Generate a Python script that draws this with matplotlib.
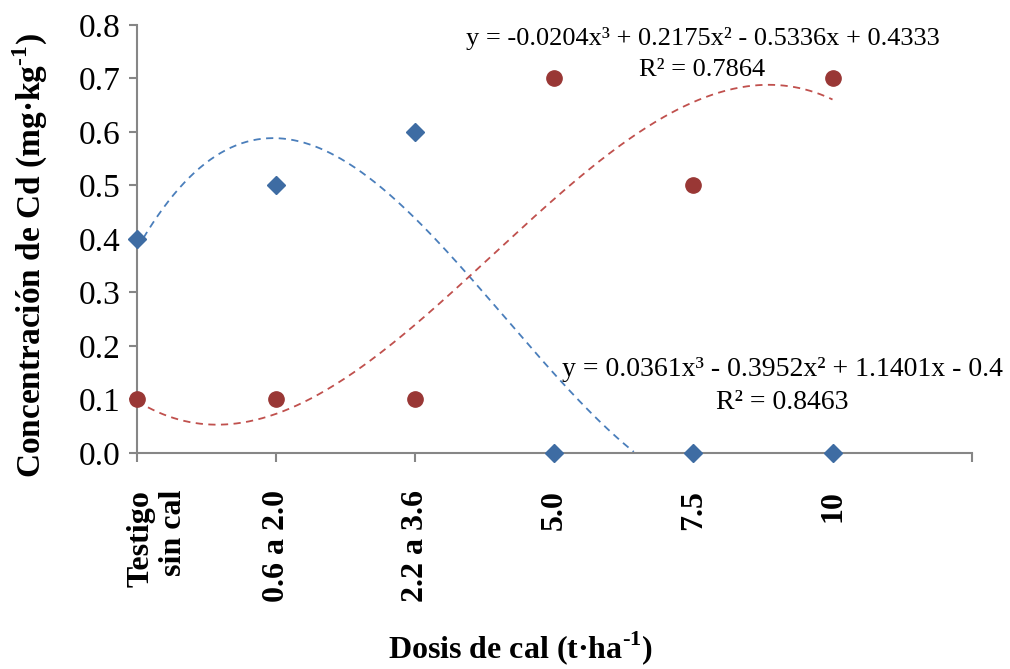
import numpy as np
import matplotlib.pyplot as plt
from matplotlib.transforms import ScaledTranslation

plt.rcParams['font.family'] = ['Liberation Serif', 'DejaVu Serif']
plt.rcParams['mathtext.fontset'] = 'custom'
plt.rcParams['mathtext.rm'] = 'Liberation Serif'
plt.rcParams['mathtext.bf'] = 'Liberation Serif:bold'

categories = ["Testigo\nsin cal", "0.6 a 2.0", "2.2 a 3.6", "5.0", "7.5", "10"]
blue_vals = [0.4, 0.5, 0.6, 0.0, 0.0, 0.0]
red_vals = [0.1, 0.1, 0.1, 0.7, 0.5, 0.7]
eq_red = "y = -0.0204x³ + 0.2175x² - 0.5336x + 0.4333\nR² = 0.7864"
eq_blue = "y = 0.0361x³ - 0.3952x² + 1.1401x - 0.4\nR² = 0.8463"

x = np.arange(1, len(categories) + 1)

fig = plt.figure(figsize=(10.1, 6.69), dpi=100)
ax = fig.add_axes([0.1356, 0.323, 0.8264, 0.64])

# cubic trend lines
xs = np.linspace(1, 6, 400)
pb = np.polyfit(x, blue_vals, 3)
pr = np.polyfit(x, red_vals, 3)
yb = np.polyval(pb, xs)
stop = np.argmax(yb < 0)  # blue line ends where it hits the axis
ax.plot(xs[:stop], yb[:stop], '--', color='#4a7ebb', lw=1.3, dashes=(4, 3))
ax.plot(xs, np.polyval(pr, xs), '--', color='#c0504d', lw=1.3, dashes=(4, 3))

ax.plot(x, blue_vals, 'D', color='#3e6ca3', ms=9, clip_on=False, zorder=5)
ax.plot(x, red_vals, 'o', color='#993735', ms=11, clip_on=False, zorder=5)

ax.set_xlim(1, 7)
ax.set_ylim(0, 0.8)
ax.set_xticks(np.arange(1, 8))
ax.set_xticklabels(categories + [""], rotation=90, fontweight='bold', fontsize=23,
                   va='top', ha='center', multialignment='right', linespacing=1.15)
ax.set_yticks(np.arange(0, 0.81, 0.1))
ax.set_yticklabels(["%.1f" % v for v in np.arange(0, 0.81, 0.1)], fontsize=24)
ax.tick_params(axis='x', length=6.5, width=1.5, color='#868686', pad=20)
ax.tick_params(axis='y', length=6, width=1.5, color='#868686', pad=6)

# first (two-line) label sits with its first line on the tick
lab0 = ax.get_xticklabels()[0]
lab0.set_transform(lab0.get_transform() + ScaledTranslation(0.2, 0, fig.dpi_scale_trans))

for s in ['top', 'right']:
    ax.spines[s].set_visible(False)
for s in ['left', 'bottom']:
    ax.spines[s].set_color('#868686')
    ax.spines[s].set_linewidth(1.5)

ax.set_ylabel(r'Concentración de Cd (mg·kg$^{\mathbf{\text{-}1}}$)', fontsize=24,
              fontweight='bold', va='center')
ax.yaxis.set_label_coords(-0.128, 0.46)
fig.text(0.515, 0.003, r'Dosis de cal (t·ha$^{\mathbf{\text{-}1}}$)', fontsize=23,
         fontweight='bold', ha='center', va='bottom')

ax.text(5.065, 0.745, eq_red, fontsize=19, ha='center', va='center', linespacing=1.5)
ax.text(5.64, 0.125, eq_blue, fontsize=20, ha='center', va='center', linespacing=1.45)

fig.savefig('out.png', dpi=100)
